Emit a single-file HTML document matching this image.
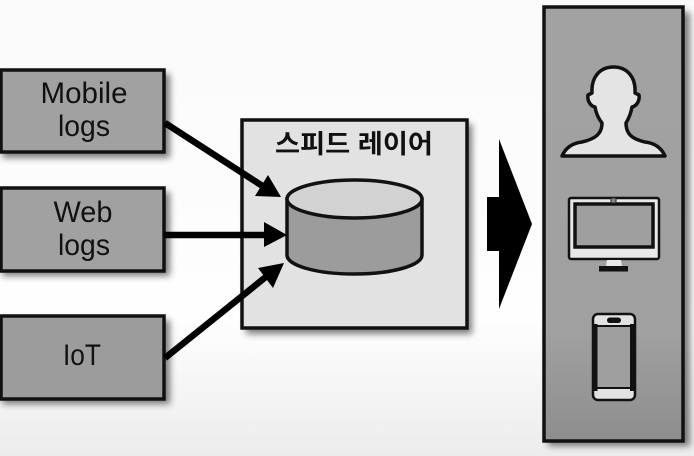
<!DOCTYPE html>
<html><head><meta charset="utf-8">
<style>
html,body{margin:0;padding:0;background:#fff}
svg{display:block}
text{font-family:"Liberation Sans","Noto Sans CJK KR",sans-serif;fill:#111}
</style></head>
<body>
<svg width="694" height="456" viewBox="0 0 694 456" xmlns="http://www.w3.org/2000/svg">
<defs>
<linearGradient id="bg" x1="0" y1="0" x2="0" y2="1">
<stop offset="0" stop-color="#fafafa"/><stop offset="0.7" stop-color="#fefefe"/><stop offset="1" stop-color="#ececec"/>
</linearGradient>
<linearGradient id="panel" x1="0" y1="0" x2="0" y2="1">
<stop offset="0" stop-color="#a2a2a2"/><stop offset="0.75" stop-color="#a0a0a0"/><stop offset="1" stop-color="#8e8e8e"/>
</linearGradient>
<filter id="sh" x="-20%" y="-20%" width="150%" height="150%">
<feGaussianBlur stdDeviation="3.5"/>
</filter>
</defs>
<rect width="694" height="456" fill="url(#bg)"/>

<g fill="#000" opacity=".5" filter="url(#sh)">
<rect x="2" y="74" width="168" height="84"/>
<rect x="2" y="192" width="168" height="84"/>
<rect x="2" y="320" width="168" height="84"/>
<rect x="246" y="124" width="226" height="210"/>
<rect x="548" y="12" width="142" height="434"/>
</g>

<g stroke="#111" stroke-width="3.500" fill="#a1a1a1">
<rect x="1" y="70" width="163" height="82"/>
<rect x="1" y="188" width="163" height="83"/>
<rect x="1" y="316" width="163" height="83" fill="#9c9c9c"/>
</g>
<text x="84" y="103" font-size="30" text-anchor="middle" textLength="87" lengthAdjust="spacingAndGlyphs">Mobile</text>
<text x="84" y="136" font-size="30" text-anchor="middle" textLength="52" lengthAdjust="spacingAndGlyphs">logs</text>
<text x="83" y="222" font-size="30" text-anchor="middle" textLength="59" lengthAdjust="spacingAndGlyphs">Web</text>
<text x="84" y="255" font-size="30" text-anchor="middle" textLength="52" lengthAdjust="spacingAndGlyphs">logs</text>
<text x="82" y="365" font-size="30" text-anchor="middle" textLength="38" lengthAdjust="spacingAndGlyphs">IoT</text>

<rect x="242" y="120" width="225" height="208" fill="#e2e2e2" stroke="#111" stroke-width="3.500"/>
<text x="354" y="153" font-size="26" font-weight="700" text-anchor="middle" textLength="158" lengthAdjust="spacingAndGlyphs">스피드 레이어</text>

<path d="M287 199V255C287 266 318 274 354 274S422 266 422 255V199Z" fill="#9c9c9c" stroke="#111" stroke-width="3.500"/>
<ellipse cx="354.500" cy="199" rx="67.500" ry="19" fill="#d2d2d2" stroke="#111" stroke-width="3.500"/>

<g stroke="#000" stroke-width="6.500" fill="none">
<line x1="165" y1="123" x2="264" y2="187"/>
<line x1="164" y1="235" x2="268" y2="235"/>
<line x1="165" y1="358" x2="267" y2="276"/>
</g>
<g fill="#000">
<polygon points="281,197 255,196 268,175"/>
<polygon points="287,235 264,222 264,247"/>
<polygon points="284,263 258,268 273,288"/>
<polygon points="499,139 532,224 499,309 499,251 487,251 487,197 499,197"/>
</g>

<rect x="544" y="7" width="139" height="434" fill="url(#panel)" stroke="#111" stroke-width="3.500"/>

<path d="M562 156C566 147 573 143 582 142C595 139 602 134 602 123C598 118 596 113 595 107C590 106 587 100 588 95L592 93C591 77 600 67 613.500 67C627 67 636 77 635 93L639 95C640 100 637 106 632 107C631 113 629 118 626 123C626 134 632 139 645 142C654 143 661 147 665 156Z" fill="#e4e4e4" stroke="#111" stroke-width="3.500" stroke-linejoin="round"/>

<rect x="569" y="198" width="90" height="61" rx="2" fill="#e8e8e8" stroke="#111" stroke-width="2.500"/>
<rect x="575" y="204" width="78" height="43" fill="#9f9f9f" stroke="#111" stroke-width="3.500"/>
<rect x="611" y="198" width="5" height="5" fill="#888" stroke="#222" stroke-width="1"/>
<polygon points="607,260 621,260 622,267 606,267" fill="#e8e8e8"/>
<rect x="599" y="266" width="29" height="5.500" fill="#111"/>

<rect x="593" y="314" width="42" height="86" rx="5" fill="#e2e2e2" stroke="#111" stroke-width="2.500"/>
<rect x="597" y="326" width="33" height="62" fill="#9f9f9f"/>
<rect x="593" y="324" width="4.500" height="67" fill="#111"/>
<rect x="630" y="324" width="5" height="67" fill="#111"/>
<line x1="596" y1="326" x2="632" y2="326" stroke="#111" stroke-width="2"/>
<line x1="596" y1="388" x2="632" y2="388" stroke="#111" stroke-width="2"/>
<rect x="607" y="317.500" width="14" height="5.500" rx="2.700" fill="#111"/>
</svg>
</body></html>
